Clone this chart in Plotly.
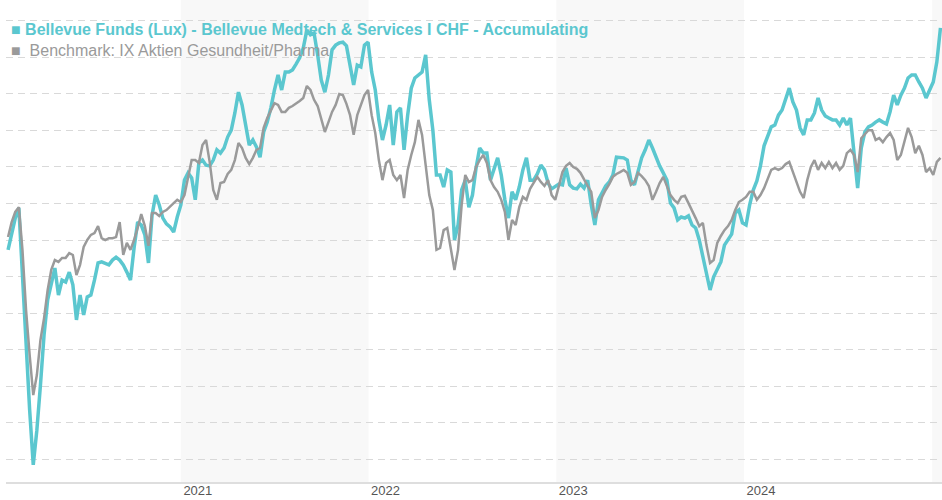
import pandas as pd
import plotly.graph_objects as go

# Weekly observation dates (Fridays)
dates = pd.date_range("2020-01-31", periods=260, freq="7D")

# Indexed performance values
fund_name = "Bellevue Funds (Lux) - Bellevue Medtech & Services I CHF - Accumulating"
bench_name = "Benchmark: IX Aktien Gesundheit/Pharma"

fund = [
    97.3, 101.4, 106.0, 108.8, 89.0, 72.6, 53.4, 38.4, 47.9, 60.3,
    74.0, 83.6, 87.7, 92.3, 84.9, 89.0, 88.5, 91.2, 87.7, 78.1,
    84.9, 79.5, 84.4, 84.9, 89.0, 93.7, 94.0, 93.7, 93.2, 94.5,
    95.3, 94.5, 93.2, 91.2, 89.0, 97.8, 104.9, 104.1, 101.4, 93.7,
    106.8, 112.3, 109.6, 106.0, 104.4, 103.6, 102.2, 106.3, 109.6, 116.4,
    118.4, 117.0, 111.0, 121.1, 121.9, 120.5, 120.3, 121.9, 124.7, 123.8,
    125.2, 128.2, 130.1, 134.8, 140.5, 137.0, 131.5, 126.0, 127.4, 125.5,
    122.7, 129.6, 132.3, 136.2, 141.1, 145.2, 141.1, 146.0, 146.0, 146.6,
    148.2, 149.9, 152.6, 157.5, 156.2, 156.7, 150.7, 143.8, 140.5, 145.2,
    152.1, 153.4, 154.0, 154.2, 153.2, 147.9, 142.5, 147.9, 147.4, 153.4,
    154.2, 146.0, 141.1, 132.9, 127.4, 131.5, 137.0, 126.0, 135.1, 136.2,
    124.7, 134.2, 141.6, 144.4, 145.2, 146.0, 150.7, 138.4, 130.1, 117.8,
    117.8, 114.5, 119.2, 118.6, 100.0, 104.1, 113.7, 116.4, 109.0, 112.3,
    119.7, 125.2, 123.8, 123.8, 116.4, 119.2, 122.5, 117.8, 111.0, 106.0,
    113.2, 111.0, 114.5, 119.2, 122.5, 116.4, 116.4, 118.1, 120.5, 119.2,
    115.6, 114.0, 114.8, 115.3, 115.1, 119.7, 115.1, 114.2, 114.0, 115.3,
    114.2, 116.4, 109.6, 104.1, 111.0, 112.9, 114.8, 115.9, 117.8, 122.7,
    122.5, 122.5, 121.9, 116.4, 115.1, 118.4, 122.5, 124.7, 127.4, 125.2,
    122.5, 120.3, 118.4, 116.4, 110.1, 108.8, 105.5, 106.3, 106.0, 106.6,
    104.1, 103.3, 100.0, 95.1, 91.2, 86.3, 89.9, 91.8, 94.0, 98.6,
    100.0, 101.6, 107.4, 108.2, 104.7, 104.1, 109.6, 113.7, 116.2, 120.3,
    125.8, 128.5, 131.0, 131.5, 134.2, 135.6, 138.4, 141.6, 137.8, 135.6,
    130.7, 128.8, 132.9, 132.9, 134.8, 138.9, 135.6, 134.0, 133.4, 132.9,
    132.9, 131.5, 133.4, 131.5, 133.4, 123.3, 114.2, 125.2, 129.6, 131.0,
    131.5, 132.3, 132.9, 132.3, 131.8, 135.1, 139.7, 137.0, 139.7, 141.6,
    144.4, 145.2, 145.2, 143.3, 141.6, 138.9, 141.1, 143.3, 148.8, 158.1,
]

benchmark = [
    100.8, 104.9, 107.7, 109.0, 97.3, 80.8, 68.5, 57.5, 63.0, 72.6,
    78.6, 86.3, 91.8, 94.5, 94.0, 95.1, 95.1, 96.4, 95.9, 90.4,
    93.2, 98.1, 100.0, 101.4, 101.9, 103.8, 100.5, 100.0, 100.5, 100.5,
    100.8, 104.9, 95.9, 99.2, 97.3, 100.0, 103.3, 107.1, 103.8, 98.4,
    107.4, 107.4, 106.6, 107.7, 108.2, 109.3, 110.1, 111.0, 110.4, 112.3,
    117.0, 121.9, 121.9, 121.1, 126.0, 127.4, 121.4, 113.7, 111.0, 115.6,
    115.9, 118.1, 119.2, 121.9, 126.6, 125.2, 122.5, 120.8, 122.5, 124.7,
    125.2, 130.7, 133.4, 135.6, 137.5, 137.0, 135.1, 135.1, 136.2, 136.7,
    137.3, 138.1, 138.9, 142.2, 141.1, 138.4, 136.7, 133.4, 129.6, 132.3,
    135.1, 137.0, 140.0, 139.7, 137.3, 134.2, 128.8, 134.2, 137.0, 139.7,
    141.1, 134.2, 129.3, 121.9, 116.4, 121.1, 121.9, 117.8, 116.4, 117.8,
    111.5, 119.2, 123.3, 126.8, 132.9, 128.8, 120.5, 112.3, 108.2, 97.3,
    97.8, 102.7, 103.3, 97.3, 91.8, 97.3, 109.6, 117.8, 115.9, 116.4,
    120.0, 121.9, 123.3, 121.1, 116.4, 114.5, 113.2, 111.0, 107.7, 100.0,
    105.5, 104.1, 109.0, 111.8, 111.0, 114.0, 115.6, 117.3, 115.9, 114.8,
    116.4, 112.3, 111.0, 114.5, 118.6, 120.3, 121.1, 120.0, 119.5, 118.4,
    116.4, 114.8, 113.2, 106.0, 108.2, 111.8, 113.7, 115.3, 117.3, 118.1,
    118.6, 119.2, 118.4, 115.1, 115.9, 118.4, 117.5, 116.4, 114.8, 111.0,
    113.2, 115.6, 117.3, 114.5, 112.3, 111.0, 110.1, 111.8, 112.1, 110.1,
    108.2, 106.0, 103.8, 104.7, 98.6, 93.7, 94.5, 99.2, 101.1, 102.7,
    103.8, 105.5, 108.2, 110.4, 111.0, 111.8, 113.2, 113.2, 111.0, 112.3,
    114.2, 117.0, 119.2, 119.7, 119.2, 119.7, 120.8, 121.4, 118.6, 115.9,
    113.2, 111.5, 116.4, 120.0, 121.9, 119.2, 121.1, 119.7, 121.4, 119.7,
    121.1, 119.2, 120.3, 123.8, 124.7, 123.3, 118.6, 127.9, 129.0, 130.1,
    130.1, 127.4, 127.9, 126.8, 128.2, 129.3, 127.4, 121.9, 123.3, 127.4,
    130.7, 128.2, 123.8, 125.8, 123.3, 118.6, 119.7, 117.8, 121.4, 122.5,
]

tick_years = ["2021", "2022", "2023", "2024"]
shaded_years = [2021, 2023, 2025]

TEAL = "#5bc7cf"
GRAY = "#9a9a9a"
FONT = "Liberation Sans, Arial, sans-serif"

fig = go.Figure()
fig.add_trace(go.Scatter(x=dates, y=fund, mode="lines", name=fund_name,
                         line=dict(color=TEAL, width=3.5), showlegend=False,
                         hoverinfo="skip"))
fig.add_trace(go.Scatter(x=dates, y=benchmark, mode="lines", name=bench_name,
                         line=dict(color=GRAY, width=2.5), showlegend=False,
                         hoverinfo="skip"))

for yr in shaded_years:
    fig.add_shape(type="rect", xref="x", yref="paper",
                  x0=f"{yr}-01-01", x1=f"{yr + 1}-01-01", y0=0, y1=1,
                  fillcolor="#f8f8f8", line=dict(width=0), layer="below")

# Legend drawn as text entries
fig.add_annotation(xref="paper", yref="paper", x=0, y=1 - 29 / 482,
                   xanchor="left", yanchor="middle", xshift=3, showarrow=False,
                   text="<b>■&nbsp;" + fund_name.replace("&", "&amp;") + "</b>",
                   font=dict(family=FONT, size=16, color=TEAL))
fig.add_annotation(xref="paper", yref="paper", x=0, y=1 - 51 / 482,
                   xanchor="left", yanchor="middle", xshift=3, showarrow=False,
                   text="■&nbsp;&nbsp;" + bench_name,
                   font=dict(family=FONT, size=16, color=GRAY))

fig.update_layout(
    template="none",
    width=942, height=500,
    margin=dict(l=6, r=0, t=0, b=18),
    paper_bgcolor="white", plot_bgcolor="rgba(0,0,0,0)",
    showlegend=False,
    font=dict(family=FONT),
    hovermode=False,
)
fig.update_xaxes(
    type="date",
    range=["2020-01-27", "2025-01-20"],
    tickvals=[f"{y}-02-03" for y in tick_years],
    ticktext=tick_years,
    showgrid=False, zeroline=False,
    showline=True, linecolor="#dedede", linewidth=2,
    ticks="", ticklabelstandoff=-5,
    tickfont=dict(family=FONT, size=13, color="#555555"),
)
fig.update_yaxes(
    range=[33.7, 165.75],
    tick0=0, dtick=10,
    showticklabels=False, ticks="",
    showgrid=True, gridcolor="#d9d9d9", gridwidth=1, griddash="7px,5px",
    zeroline=False, showline=False,
)

fig.write_html("out.html")
